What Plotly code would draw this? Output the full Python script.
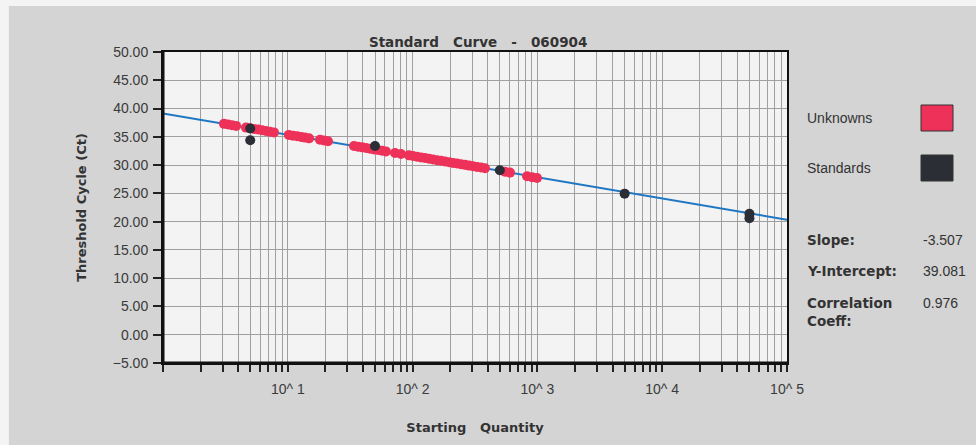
import plotly.graph_objects as go

# ---- data ----
unk_qty = [3.08, 3.32, 3.57, 3.85,
           4.62, 4.98, 5.36, 5.77, 6.21, 6.68, 7.20, 7.75,
           10.2, 11.0, 11.9, 12.8, 13.7, 14.8,
           18.1, 19.5, 21.0,
           33.9, 36.5, 39.4, 42.4, 45.6, 49.1, 52.8, 56.9, 61.2,
           72.3, 80.7,
           93.6, 100.7, 108.4, 116.8, 125.7, 135.3, 145.7, 156.9, 169.0, 181.9,
           195.9, 210.9, 227.0, 244.3, 263.0, 283.1, 304.8, 328.1, 353.2, 380.2,
           550, 603,
           826, 906, 993]
unk_ct = [37.29, 37.18, 37.06, 36.93,
          36.63, 36.51, 36.38, 36.28, 36.15, 36.03, 35.90, 35.78,
          35.34, 35.21, 35.09, 34.98, 34.86, 34.73,
          34.47, 34.34, 34.22,
          33.37, 33.26, 33.14, 33.01, 32.89, 32.77, 32.66, 32.54, 32.41,
          32.15, 31.97,
          31.72, 31.60, 31.47, 31.36, 31.24, 31.12, 30.99, 30.87, 30.76, 30.64,
          30.51, 30.39, 30.27, 30.16, 30.04, 29.91, 29.79, 29.67, 29.56, 29.43,
          28.83, 28.67,
          28.02, 27.86, 27.72]

std_qty = [5, 5, 50, 500, 5000, 50000, 50000]
std_ct = [36.47, 34.40, 33.39, 29.08, 24.95, 21.40, 20.60]

fit_qty = [1, 100000]
fit_ct = [39.13, 20.33]

grid_vals = [m * 10 ** e for e in range(0, 5) for m in range(1, 10)] + [100000]
decade_labels = {10: "10^ 1", 100: "10^ 2", 1000: "10^ 3", 10000: "10^ 4", 100000: "10^ 5"}
grid_text = [decade_labels.get(v, "") for v in grid_vals]

y_ticks = [-5, 0, 5, 10, 15, 20, 25, 30, 35, 40, 45, 50]

stats_labels = ["Slope:", "Y-Intercept:", "Correlation<br>Coeff:"]
stats_values = ["-3.507", "39.081", "0.976"]

RED = "#ee3159"
DARK = "#2b2e35"
NB = "\u00a0"

fig = go.Figure()
fig.add_trace(go.Scatter(x=fit_qty, y=fit_ct, mode="lines",
                         line=dict(color="#1f77c4", width=2), showlegend=False,
                         hoverinfo="skip"))
fig.add_trace(go.Scatter(x=unk_qty, y=unk_ct, mode="markers", name="Unknowns",
                         marker=dict(color=RED, size=10, line=dict(width=0)),
                         showlegend=False))
fig.add_trace(go.Scatter(x=std_qty, y=std_ct, mode="markers", name="Standards",
                         marker=dict(color=DARK, size=10, line=dict(width=0)),
                         showlegend=False))

fig.update_layout(
    width=976, height=445,
    margin=dict(l=163, r=189, t=52, b=82),
    paper_bgcolor="#d4d4d4",
    plot_bgcolor="#f3f3f3",
    font=dict(family="Liberation Sans, Arial, sans-serif", size=14, color="#3a3a3a"),
    title=dict(text=f"Standard{NB*3}Curve{NB*3}-{NB*3}060904",
               x=0.505, xref="paper", xanchor="center",
               y=1 - 42 / 445, yref="container", yanchor="middle",
               font=dict(family="DejaVu Sans", size=13.5, color="#333", weight="bold")),
    xaxis=dict(type="log", range=[0, 5],
               tickmode="array", tickvals=grid_vals, ticktext=grid_text,
               showgrid=True, gridcolor="#9f9f9f", gridwidth=1,
               ticks="outside", ticklen=7, tickwidth=1.5, tickcolor="#222",
               ticklabelstandoff=5,
               showline=True, linecolor="#111", linewidth=2, mirror=True,
               tickfont=dict(size=14, color="#3a3a3a"),
               title=dict(text=f"Starting{NB*3}Quantity", standoff=27,
                          font=dict(family="DejaVu Sans", size=13, color="#333",
                                    weight="bold")),
               zeroline=False),
    yaxis=dict(range=[-5, 50], tickmode="array", tickvals=y_ticks,
               tickformat=".2f",
               showgrid=True, gridcolor="#9f9f9f", gridwidth=1,
               ticks="outside", ticklen=8, tickwidth=1.5, tickcolor="#222",
               ticklabelstandoff=2,
               showline=True, linecolor="#111", linewidth=2, mirror=True,
               tickfont=dict(size=14, color="#3a3a3a"),
               title=dict(text="Threshold Cycle (Ct)", standoff=23,
                          font=dict(family="DejaVu Sans", size=13, color="#333",
                                    weight="bold")),
               zeroline=False),
    showlegend=False,
)

# thicker left/bottom axis lines as in the print
fig.add_shape(type="line", xref="paper", yref="paper", x0=0, x1=0, y0=0, y1=1,
              line=dict(color="#111", width=3))
fig.add_shape(type="line", xref="paper", yref="paper", x0=0, x1=1, y0=0, y1=0,
              line=dict(color="#111", width=3))

# white scan margins
fig.add_shape(type="rect", xref="paper", yref="paper", x0=-0.27, x1=1.35,
              y0=1.148, y1=1.2, line=dict(width=0), fillcolor="#f4f4f4", layer="below")
fig.add_shape(type="rect", xref="paper", yref="paper", x0=-0.27, x1=-0.247,
              y0=-0.3, y1=1.2, line=dict(width=0), fillcolor="#f4f4f4", layer="below")


def px_x(px):
    return (px - 163) / 624


def px_y(py):
    return (363 - py) / 311


legend_items = [("Unknowns", RED, 118), ("Standards", DARK, 168)]
for name, col, yc in legend_items:
    fig.add_annotation(text=name, xref="paper", yref="paper", x=px_x(805), y=px_y(yc),
                       xanchor="left", yanchor="middle", showarrow=False,
                       font=dict(size=14, color="#333"))
    fig.add_shape(type="rect", xref="paper", yref="paper",
                  x0=px_x(921), x1=px_x(953), y0=px_y(yc + 13), y1=px_y(yc - 13),
                  fillcolor=col, line=dict(color="#333", width=1))

for lab, yc in zip(stats_labels, [240, 271, 312]):
    fig.add_annotation(text=lab, xref="paper", yref="paper", x=px_x(805), y=px_y(yc),
                       xanchor="left", yanchor="middle", showarrow=False, align="left",
                       font=dict(family="DejaVu Sans", size=13.5, color="#333", weight="bold"))
for val, yc in zip(stats_values, [240, 271, 303]):
    fig.add_annotation(text=val, xref="paper", yref="paper", x=px_x(921), y=px_y(yc),
                       xanchor="left", yanchor="middle", showarrow=False,
                       font=dict(size=14, color="#333"))

fig.write_html("out.html", config={"displayModeBar": False})

# remove the browser's default page margin so the figure sits at (0, 0)
with open("out.html", "r", encoding="utf-8") as f:
    html = f.read()
html = html.replace("<head>", "<head><style>html,body{margin:0;padding:0;}</style>", 1)
with open("out.html", "w", encoding="utf-8") as f:
    f.write(html)
